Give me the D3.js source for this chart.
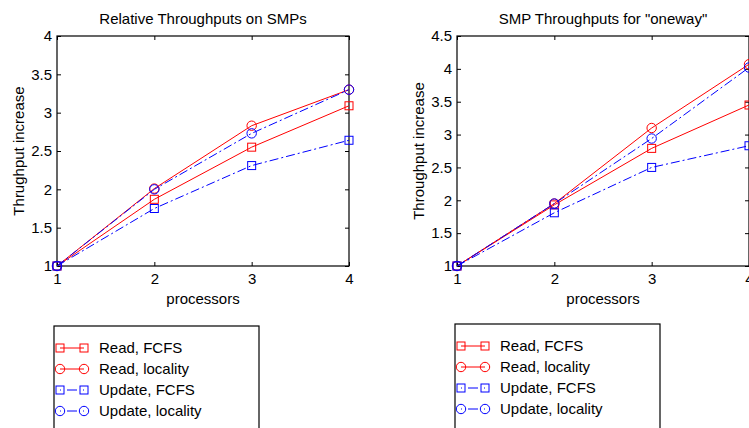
<!DOCTYPE html>
<html>
<head>
<meta charset="utf-8">
<script src="https://cdn.jsdelivr.net/npm/d3@7"></script>
<style>
  body { margin: 0; background: #fff; }
  svg { display: block; font-family: "Liberation Sans", Arial, sans-serif; }
  .tick text { font-size: 15px; fill: #000; }
  .title { font-size: 15px; }
  .label { font-size: 15px; }
  .legend text { font-size: 15px; }
</style>
</head>
<body>
<svg id="fig" width="749" height="428"></svg>
<script>
const processors = [1, 2, 3, 4];
const seriesNames = ['Read, FCFS', 'Read, locality', 'Update, FCFS', 'Update, locality'];

// left panel: Relative Throughputs on SMPs
const smpReadFcfs = [1, 1.87, 2.55, 3.09];
const smpReadLocality = [1, 2.01, 2.83, 3.30];
const smpUpdateFcfs = [1, 1.75, 2.31, 2.64];
const smpUpdateLocality = [1, 2.00, 2.73, 3.30];
const smpTicks = [1, 1.5, 2, 2.5, 3, 3.5, 4];

// right panel: SMP Throughputs for "oneway"
const onewayReadFcfs = [1, 1.93, 2.79, 3.45];
const onewayReadLocality = [1, 1.95, 3.10, 4.07];
const onewayUpdateFcfs = [1, 1.81, 2.50, 2.83];
const onewayUpdateLocality = [1, 1.95, 2.94, 4.02];
const onewayTicks = [1, 1.5, 2, 2.5, 3, 3.5, 4, 4.5];

const styles = [
  { color: '#ff0000', marker: 'square', dash: null },
  { color: '#ff0000', marker: 'circle', dash: null },
  { color: '#0000ff', marker: 'square', dash: '9,3,2,3' },
  { color: '#0000ff', marker: 'circle', dash: '9,3,2,3' }
];

const svg = d3.select('#fig');

function marker(g, type, x, y, color) {
  if (type === 'square') {
    g.append('rect')
      .attr('x', x - 4).attr('y', y - 4)
      .attr('width', 8).attr('height', 8)
      .attr('fill', 'none').attr('stroke', color);
  } else {
    g.append('circle')
      .attr('cx', x).attr('cy', y).attr('r', 4.7)
      .attr('fill', 'none').attr('stroke', color);
  }
}

function drawPanel(opts) {
  const { left, right, top, bottom, title, ylabel, yTicks, series, ylabelX, legend } = opts;
  const x = d3.scaleLinear().domain([1, 4]).range([left, right]);
  const y = d3.scaleLinear().domain([yTicks[0], yTicks[yTicks.length - 1]]).range([bottom, top]);
  const g = svg.append('g');

  // box
  g.append('rect')
    .attr('x', left).attr('y', top)
    .attr('width', right - left).attr('height', bottom - top)
    .attr('fill', 'none').attr('stroke', '#000').attr('stroke-width', 1.2);

  const fmt = d => d3.format('')(d);

  g.append('g')
    .attr('transform', `translate(0,${bottom})`)
    .call(d3.axisBottom(x).tickValues(processors).tickFormat(fmt).tickSizeInner(-4).tickSizeOuter(0).tickPadding(7))
    .call(a => a.select('.domain').remove());
  g.append('g')
    .attr('transform', `translate(0,${top})`)
    .call(d3.axisTop(x).tickValues(processors).tickFormat('').tickSizeInner(-4).tickSizeOuter(0))
    .call(a => a.select('.domain').remove());
  g.append('g')
    .attr('transform', `translate(${left},0)`)
    .call(d3.axisLeft(y).tickValues(yTicks).tickFormat(fmt).tickSizeInner(-4).tickSizeOuter(0).tickPadding(5))
    .call(a => a.select('.domain').remove());
  g.append('g')
    .attr('transform', `translate(${right},0)`)
    .call(d3.axisRight(y).tickValues(yTicks).tickFormat('').tickSizeInner(-4).tickSizeOuter(0))
    .call(a => a.select('.domain').remove());
  g.selectAll('.tick line').attr('stroke', '#000');

  const line = d3.line().x((d, i) => x(processors[i])).y(d => y(d));

  series.forEach((vals, k) => {
    const s = styles[k];
    g.append('path')
      .datum(vals)
      .attr('d', line)
      .attr('fill', 'none')
      .attr('stroke', s.color)
      .attr('stroke-width', 1)
      .attr('stroke-dasharray', s.dash);
    vals.forEach((v, i) => marker(g, s.marker, x(processors[i]), y(v), s.color));
  });

  const cx = (left + right) / 2;
  g.append('text').attr('class', 'title')
    .attr('x', cx).attr('y', 24).attr('text-anchor', 'middle').text(title);
  g.append('text').attr('class', 'label')
    .attr('x', cx).attr('y', 304).attr('text-anchor', 'middle').text('processors');
  g.append('text').attr('class', 'label')
    .attr('transform', `translate(${ylabelX},${(top + bottom) / 2}) rotate(-90)`)
    .attr('text-anchor', 'middle').text(ylabel);

  // legend
  const lg = g.append('g').attr('class', 'legend');
  lg.append('rect')
    .attr('x', legend.x).attr('y', legend.y)
    .attr('width', 205).attr('height', 120)
    .attr('fill', '#fff').attr('stroke', '#000').attr('stroke-width', 1.2);
  seriesNames.forEach((name, k) => {
    const s = styles[k];
    const ly = legend.y + 22 + k * 21;
    const x0 = legend.x + 6, x1 = legend.x + 30;
    lg.append('line')
      .attr('x1', x0).attr('x2', x1).attr('y1', ly).attr('y2', ly)
      .attr('stroke', s.color)
      .attr('stroke-dasharray', s.dash ? '1,6,10,6,1' : null);
    marker(lg, s.marker, x0, ly, s.color);
    marker(lg, s.marker, x1, ly, s.color);
    lg.append('text')
      .attr('x', legend.x + 45).attr('y', ly + 5).text(name);
  });
}

drawPanel({
  left: 57, right: 349, top: 36, bottom: 266,
  title: 'Relative Throughputs on SMPs',
  ylabel: 'Thrughput increase',
  ylabelX: 24,
  yTicks: smpTicks,
  series: [smpReadFcfs, smpReadLocality, smpUpdateFcfs, smpUpdateLocality],
  legend: { x: 54, y: 326 }
});

drawPanel({
  left: 457, right: 749, top: 36, bottom: 266,
  title: 'SMP Throughputs for "oneway"',
  ylabel: 'Throughput increase',
  ylabelX: 424,
  yTicks: onewayTicks,
  series: [onewayReadFcfs, onewayReadLocality, onewayUpdateFcfs, onewayUpdateLocality],
  legend: { x: 455, y: 324 }
});
</script>
</body>
</html>
